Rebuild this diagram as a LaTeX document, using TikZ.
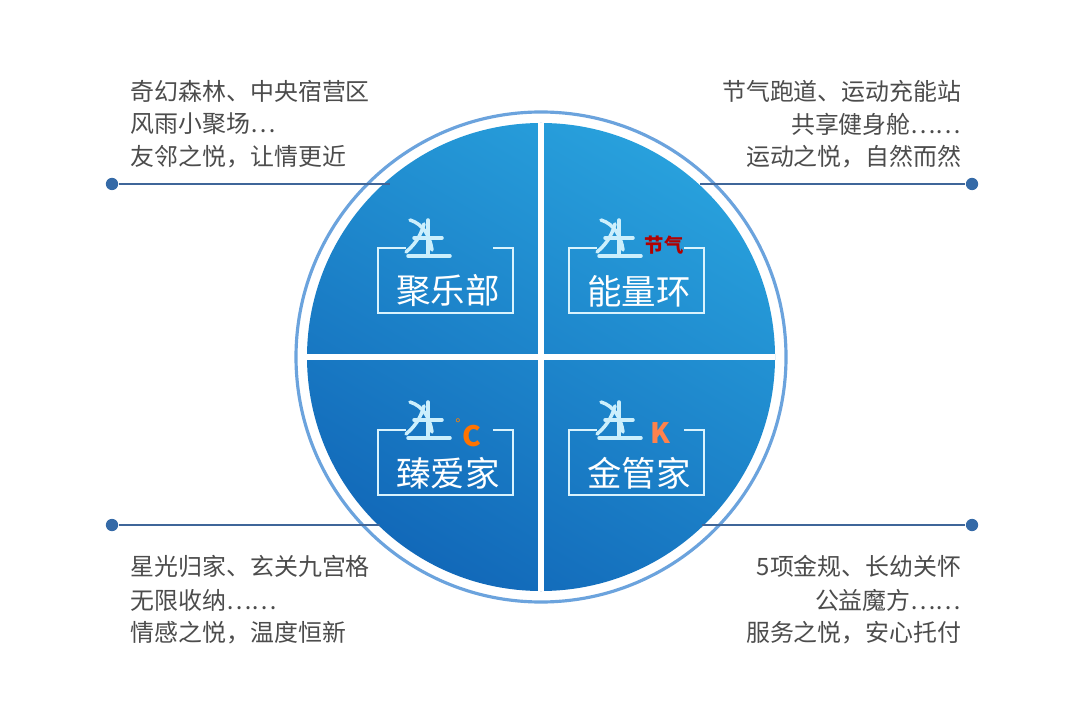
\documentclass[tikz,border=0pt]{standalone}
\usepackage{fontspec}
\setmainfont{Noto Sans CJK SC}
\begin{document}
\begin{tikzpicture}[x=0.01cm,y=-0.01cm,
  side/.style={font=\fontsize{6.8}{9.4}\selectfont,text=black!70,inner sep=0pt},
  lead/.style={draw=cyan!50!blue!70!black,line width=0.5pt},
  dot/.style={circle,fill=cyan!50!blue!80!black,inner sep=0pt,minimum size=3.5pt},
  title/.style={font=\fontsize{9.8}{11}\selectfont,text=white,inner sep=0pt},
  brk/.style={draw=white!85!cyan,line width=0.7pt},
  logo/.style={draw=white!80!cyan,line width=1pt,line cap=round}]
\useasboundingbox (0,0) rectangle (1080,707);
\fill[white] (0,0) rectangle (1080,707);
\definecolor{cA}{RGB}{40,160,220}
\definecolor{cB}{RGB}{18,105,185}
% circle
\coordinate (c) at (541,357);
\draw[cyan!60!blue!60,line width=0.9pt] (c) circle (245);
\shade[top color=cA,bottom color=cB,shading angle=-30] (c) circle (234);
\draw[white,line width=1.6pt] (541,123) -- (541,591) (307,357) -- (775,357);
% leader lines
\node[dot] (d1) at (112,184) {}; \coordinate (e1) at (390,184);
\node[dot] (d2) at (972,184) {}; \coordinate (e2) at (700,184);
\node[dot] (d3) at (112,525) {}; \coordinate (e3) at (380,525);
\node[dot] (d4) at (972,525) {}; \coordinate (e4) at (702,525);
\draw[lead] (d1) -- (e1); \draw[lead] (d2) -- (e2);
\draw[lead] (d3) -- (e3); \draw[lead] (d4) -- (e4);
% side texts
\node[side,anchor=west] (t1a) at (130,91) {奇幻森林、中央宿营区};
\node[side,anchor=west] (t1b) at (130,124) {风雨小聚场…};
\node[side,anchor=west] (t1c) at (130,157) {友邻之悦，让情更近};
\node[side,anchor=east] (t2a) at (962,91) {节气跑道、运动充能站};
\node[side,anchor=east] (t2b) at (962,124) {共享健身舱……};
\node[side,anchor=east] (t2c) at (962,157) {运动之悦，自然而然};
\node[side,anchor=west] (t3a) at (130,566) {星光归家、玄关九宫格};
\node[side,anchor=west] (t3b) at (130,600) {无限收纳……};
\node[side,anchor=west] (t3c) at (130,633) {情感之悦，温度恒新};
\node[side,anchor=east] (t4a) at (962,566) {5项金规、长幼关怀};
\node[side,anchor=east] (t4b) at (962,600) {公益魔方……};
\node[side,anchor=east] (t4c) at (962,633) {服务之悦，安心托付};
% boxes
\foreach \x/\y/\t [count=\i] in {378/248/聚乐部,569/248/能量环,378/430/臻爱家,569/430/金管家}{
  \draw[brk] (\x+28,\y) -- (\x,\y) -- (\x,\y+65) -- (\x+135,\y+65) -- (\x+135,\y) -- (\x+115,\y);
  \node[title] (q\i) at (\x+70,\y+43) {\t};
  \draw[logo] (\x+32,\y-28) .. controls (\x+45,\y-24) and (\x+52,\y-12) .. (\x+54,\y+2);
  \draw[logo] (\x+46,\y-24) .. controls (\x+42,\y-10) and (\x+36,\y-3) .. (\x+28,\y+4);
  \draw[logo] (\x+50,\y-28) -- (\x+50,\y+6);
  \draw[logo] (\x+36,\y-10) -- (\x+64,\y-10);
  \draw[logo] (\x+30,\y+8) -- (\x+72,\y+8);
}
\node[font=\bfseries\fontsize{5.5}{6}\selectfont,text=red!70!black,inner sep=0pt] (k1) at (664,245) {节气};
\node[font=\bfseries\fontsize{8}{8}\selectfont,text=orange!90!red,inner sep=0pt] (k2) at (472,436) {C};
\node[font=\fontsize{4}{5}\selectfont,text=orange,inner sep=0pt] (k2b) at (458,424) {°};
\node[font=\bfseries\fontsize{8}{8}\selectfont,text=red!40!orange!70!white,inner sep=0pt] (k3) at (660,433) {K};
\end{tikzpicture}
\end{document}
